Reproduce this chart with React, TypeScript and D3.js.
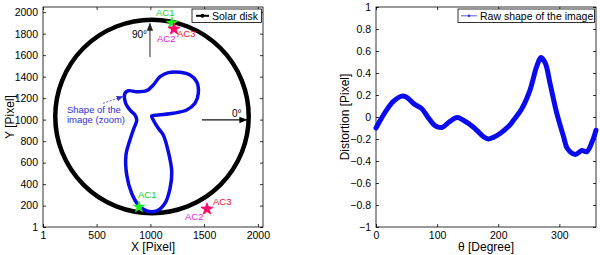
import React, { useEffect, useRef } from 'react';
import * as d3 from 'd3';

// solar disk (pixel coords on the detector)
const diskCenter = [1015, 1030];
const diskRadius = 900;

// outline of the image shape (zoomed), pixel coords
const shapeX = [1012, 1074, 1213, 1338, 1415, 1446, 1431, 1369, 1276, 1167, 1090, 1027, 966, 873, 795, 764, 770, 810, 857, 873, 841, 810, 773, 780, 826, 888, 966, 1059, 1136, 1183, 1199, 1167, 1120, 1074, 1027];
const shapeY = [1034, 1043, 1059, 1090, 1152, 1245, 1353, 1415, 1440, 1437, 1400, 1322, 1269, 1260, 1269, 1245, 1152, 1090, 1043, 997, 904, 811, 671, 485, 315, 206, 150, 150, 222, 361, 516, 702, 857, 919, 997];

// AC markers: [top, bottom]
const ac1X = [1201, 894];
const ac1Y = [1899, 187];
const ac2X = [1218, 1525];
const ac2Y = [1845, 170];
const ac3X = [1222, 1529];
const ac3Y = [1841, 166];

// distortion vs angle
const theta = [0, 7, 17, 28, 42, 50, 61, 66, 75, 86, 97, 108, 121, 133, 143, 160, 176, 184, 192, 203, 217, 225, 239, 252, 263, 270, 277, 285, 296, 307, 313, 326, 337, 345, 356, 360];
const distortion = [-0.1, -0.03, 0.06, 0.14, 0.19, 0.18, 0.125, 0.105, 0.075, -0.01, -0.08, -0.095, -0.04, -0.005, -0.03, -0.095, -0.18, -0.2, -0.185, -0.15, -0.085, -0.03, 0.08, 0.245, 0.46, 0.54, 0.49, 0.3, 0.03, -0.18, -0.285, -0.34, -0.305, -0.315, -0.19, -0.12];

const leftXTicks = [1, 500, 1000, 1500, 2000];
const leftYTicks = [1, 200, 400, 600, 800, 1000, 1200, 1400, 1600, 1800, 2000];
const rightXTicks = [0, 100, 200, 300];
const rightYTicks = [-1, -0.8, -0.6, -0.4, -0.2, 0, 0.2, 0.4, 0.6, 0.8, 1];

const FONT = 'Liberation Sans, Arial, Helvetica, sans-serif';

const App = () => {
  const ref = useRef<SVGSVGElement>(null);

  useEffect(() => {
    const svg = d3.select(ref.current);
    svg.selectAll('*').remove();

    const defs = svg.append('defs');
    const marker = (id: string, color: string, size: number) => {
      defs
        .append('marker')
        .attr('id', id)
        .attr('viewBox', '0 0 10 10')
        .attr('refX', 9)
        .attr('refY', 5)
        .attr('markerUnits', 'userSpaceOnUse')
        .attr('markerWidth', size)
        .attr('markerHeight', size)
        .attr('orient', 'auto')
        .append('path')
        .attr('d', 'M0,1 L10,5 L0,9 Z')
        .attr('fill', color);
    };
    marker('headDark', '#222', 8);
    marker('headBlack', '#000', 8);
    marker('headBlue', '#3030d0', 7);

    // ---------- left panel ----------
    const x = d3.scaleLinear().domain([1, 2048]).range([43, 263]);
    const y = d3.scaleLinear().domain([1, 2048]).range([227, 7]);

    const frame = (g: any, xs: any, ys: any) => {
      const [x0, x1] = xs.range();
      const [y1, y0] = ys.range();
      g.append('rect')
        .attr('x', x0)
        .attr('y', y0)
        .attr('width', x1 - x0)
        .attr('height', y1 - y0)
        .attr('fill', 'none')
        .attr('stroke', '#000')
        .attr('stroke-width', 0.8);
    };

    const axes = (xs: any, ys: any, xt: number[], yt: number[], fmt: (d: number) => string) => {
      const [x0, x1] = xs.range();
      const [y1, y0] = ys.range();
      const style = (g: any) => {
        g.select('.domain').remove();
        g.selectAll('line').attr('stroke', '#000').attr('stroke-width', 0.8);
        g.selectAll('text').attr('font-family', FONT).attr('font-size', 10.5).attr('fill', '#000');
      };
      svg.append('g').attr('transform', `translate(0,${y1})`)
        .call(d3.axisBottom(xs).tickValues(xt).tickSize(-3).tickPadding(5).tickFormat(fmt as any))
        .call(style);
      svg.append('g').attr('transform', `translate(0,${y0})`)
        .call(d3.axisTop(xs).tickValues(xt).tickSize(-3).tickFormat(() => ''))
        .call(style);
      svg.append('g').attr('transform', `translate(${x0},0)`)
        .call(d3.axisLeft(ys).tickValues(yt).tickSize(-3).tickPadding(5).tickFormat(fmt as any))
        .call(style);
      svg.append('g').attr('transform', `translate(${x1},0)`)
        .call(d3.axisRight(ys).tickValues(yt).tickSize(-3).tickFormat(() => ''))
        .call(style);
      frame(svg, xs, ys);
    };

    axes(x, y, leftXTicks, leftYTicks, (d) => String(d));

    const L = svg.append('g');

    // solar disk
    L.append('ellipse')
      .attr('cx', x(diskCenter[0]))
      .attr('cy', y(diskCenter[1]))
      .attr('rx', x(diskCenter[0] + diskRadius) - x(diskCenter[0]))
      .attr('ry', y(diskCenter[1]) - y(diskCenter[1] + diskRadius))
      .attr('fill', 'none')
      .attr('stroke', '#000')
      .attr('stroke-width', 4.5);

    // shape of the image
    const shapePts = shapeX.map((d, i) => [d, shapeY[i]] as [number, number]);
    L.append('path')
      .attr('d', d3.line().x((d) => x(d[0])).y((d) => y(d[1])).curve(d3.curveCatmullRomClosed.alpha(0.5))(shapePts))
      .attr('fill', 'none')
      .attr('stroke', '#0a0ae6')
      .attr('stroke-width', 3.5);

    // direction arrows
    L.append('line')
      .attr('x1', x(996)).attr('y1', y(1583))
      .attr('x2', x(996)).attr('y2', y(1895))
      .attr('stroke', '#777').attr('stroke-width', 1.6)
      .attr('marker-end', 'url(#headDark)');
    L.append('line')
      .attr('x1', x(1480)).attr('y1', y(997))
      .attr('x2', x(1895)).attr('y2', y(997))
      .attr('stroke', '#111').attr('stroke-width', 1.3)
      .attr('marker-end', 'url(#headBlack)');
    L.append('line')
      .attr('x1', x(559)).attr('y1', y(1152))
      .attr('x2', x(745)).attr('y2', y(1215))
      .attr('stroke', '#3030d0').attr('stroke-width', 0.8)
      .attr('stroke-dasharray', '2,1.5')
      .attr('marker-end', 'url(#headBlue)');

    const label = (tx: number, ty: number, s: string, color: string, anchor = 'start', size = 9.5) =>
      L.append('text')
        .attr('x', x(tx)).attr('y', y(ty))
        .attr('text-anchor', anchor)
        .attr('font-family', FONT).attr('font-size', size)
        .attr('fill', color)
        .text(s);

    label(969, 1760, '90°', '#000', 'end', 10);
    label(1760, 1025, '0°', '#000', 'start', 10);
    label(224, 1062, 'Shape of the', '#3030d0');
    label(224, 966, 'image (zoom)', '#3030d0');

    // AC markers
    const star = d3.symbol().type(d3.symbolStar).size(42);
    const stars = (xs: number[], ys: number[], color: string, op = 1) =>
      xs.forEach((d, i) => {
        L.append('path')
          .attr('d', star()!)
          .attr('transform', `translate(${x(d)},${y(ys[i])})`)
          .attr('fill', color)
          .attr('fill-opacity', op)
          .attr('stroke', color)
          .attr('stroke-width', 0.6);
      });
    stars(ac1X, ac1Y, '#22ee22');
    stars(ac2X, ac2Y, '#ff00cc');
    stars(ac3X, ac3Y, '#ff1030', 0.6);

    label(1052, 1964, 'AC1', '#22cc22');
    label(1062, 1722, 'AC2', '#e020e0');
    label(1248, 1769, 'AC3', '#ee1030');
    label(885, 271, 'AC1', '#22cc22');
    label(1583, 206, 'AC3', '#ee1030');
    label(1322, 66, 'AC2', '#e020e0');

    // legend
    const lg = L.append('g');
    lg.append('rect').attr('x', 192).attr('y', 9).attr('width', 69.5).attr('height', 13.5)
      .attr('fill', '#fff').attr('stroke', '#000').attr('stroke-width', 0.8);
    lg.append('line').attr('x1', 196).attr('x2', 209).attr('y1', 15.8).attr('y2', 15.8)
      .attr('stroke', '#000').attr('stroke-width', 2);
    lg.append('circle').attr('cx', 202.5).attr('cy', 15.8).attr('r', 2).attr('fill', '#000');
    lg.append('text').attr('x', 212).attr('y', 20).attr('font-family', FONT).attr('font-size', 10.5).text('Solar disk');

    // axis titles
    svg.append('text').attr('x', 153).attr('y', 251).attr('text-anchor', 'middle')
      .attr('font-family', FONT).attr('font-size', 12).text('X [Pixel]');
    svg.append('text').attr('transform', 'translate(14,117) rotate(-90)').attr('text-anchor', 'middle')
      .attr('font-family', FONT).attr('font-size', 12).text('Y [Pixel]');

    // ---------- right panel ----------
    const xr = d3.scaleLinear().domain([0, 360]).range([376, 596]);
    const yr = d3.scaleLinear().domain([-1, 1]).range([227, 7]);
    axes(xr, yr, rightXTicks, rightYTicks, (d) => (d < 0 ? '\u2212' : '') + d3.format('')(Math.abs(+d.toFixed(1))));

    const curvePts = theta.map((d, i) => [d, distortion[i]] as [number, number]);
    svg.append('path')
      .attr('d', d3.line().x((d) => xr(d[0])).y((d) => yr(d[1])).curve(d3.curveCatmullRom.alpha(0.5))(curvePts))
      .attr('fill', 'none')
      .attr('stroke', '#0a0aee')
      .attr('stroke-width', 5)
      .attr('stroke-linecap', 'round')
      .attr('stroke-linejoin', 'round');

    const rg = svg.append('g');
    rg.append('rect').attr('x', 458).attr('y', 9).attr('width', 136.5).attr('height', 13.5)
      .attr('fill', '#fff').attr('stroke', '#000').attr('stroke-width', 0.8);
    rg.append('line').attr('x1', 461).attr('x2', 477).attr('y1', 15.8).attr('y2', 15.8)
      .attr('stroke', '#3030ee').attr('stroke-width', 0.8);
    rg.append('circle').attr('cx', 469).attr('cy', 15.8).attr('r', 1.3).attr('fill', '#3030ee');
    rg.append('text').attr('x', 480).attr('y', 20).attr('font-family', FONT).attr('font-size', 10.5).text('Raw shape of the image');

    svg.append('text').attr('x', 486).attr('y', 251).attr('text-anchor', 'middle')
      .attr('font-family', FONT).attr('font-size', 12).text('θ [Degree]');
    svg.append('text').attr('transform', 'translate(349,117) rotate(-90)').attr('text-anchor', 'middle')
      .attr('font-family', FONT).attr('font-size', 12).text('Distortion [Pixel]');
  }, []);

  return (
    <svg
      ref={ref}
      width={600}
      height={255}
      style={{ position: 'absolute', left: 0, top: 0, background: '#fff' }}
    />
  );
};

export default App;
